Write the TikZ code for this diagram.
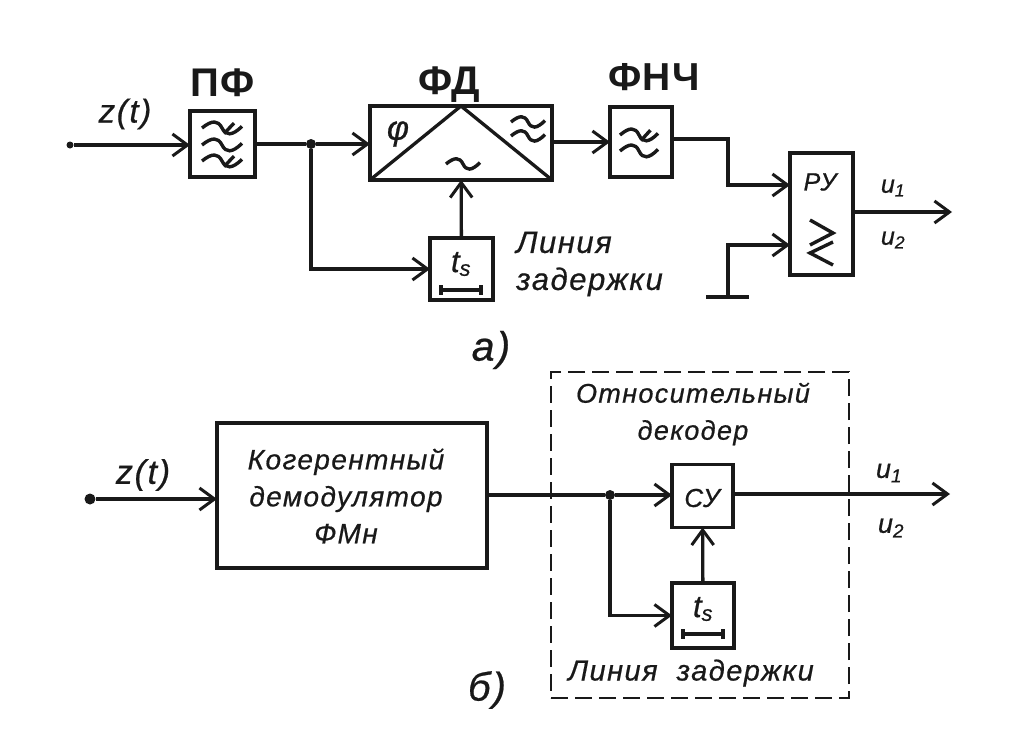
\documentclass[tikz,border=0pt]{standalone}
\usepackage{fontspec}
\setmainfont{Liberation Sans}
\newfontfamily\handfont[LetterSpace=5,FakeBold=0.6]{Liberation Sans}
\newfontfamily\titlefont[LetterSpace=3]{Liberation Sans}
\usetikzlibrary{arrows.meta}
\usetikzlibrary{positioning}
\begin{document}
\begin{tikzpicture}[
    x=1pt, y=-1pt,
    block/.style={rectangle, draw=black!90, line width=3.6pt, inner sep=0pt, outer sep=0pt},
    dashblock/.style={rectangle, draw=black!90, line width=2.8pt, dash pattern=on 17pt off 7pt, inner sep=0pt},
    conn/.style={draw=black!90, line width=3.3pt},
    arr/.style={conn, -{Straight Barb[length=15pt,width=22pt,line width=3pt]}},
    jdot/.style={circle, fill=black!90, inner sep=0pt, minimum size=10pt},
    hand/.style={font=\handfont\itshape\fontsize{#1}{37}\selectfont, text=black!90, inner sep=0pt, align=center},
    title/.style={font=\titlefont\bfseries\fontsize{#1}{37}\selectfont, text=black!90, inner sep=0pt},
    sym/.style={draw=black!90, line width=3.4pt},
]
\tikzset{
  pics/wave/.style args={#1:#2}{
    code={
      \draw[sym] (-#1,0) .. controls (-.5*#1,-#2) and (-.2*#1,-#2) .. (0,0)
        .. controls (.2*#1,#2) and (.5*#1,#2) .. (#1,-.2*#2);
    }
  },
  pics/wavecut/.style args={#1:#2}{
    code={
      \draw[sym] (-#1,0) .. controls (-.5*#1,-#2) and (-.2*#1,-#2) .. (0,0)
        .. controls (.2*#1,#2) and (.5*#1,#2) .. (#1,-.2*#2);
      \draw[sym] (.1*#1,.7*#2) -- (.6*#1,-.6*#2);
    }
  },
  pics/delaybar/.style={
    code={
      \draw[sym] (-20,0) -- (20,0);
      \draw[sym] (-20,-5) -- (-20,5);
      \draw[sym] (20,-5) -- (20,5);
    }
  }
}
\useasboundingbox (0,0) rectangle (1036,750);
% upper scheme
\node[block, minimum width=65pt, minimum height=66pt] (pf) at (222.5,144) {};
\node[block, minimum width=182pt, minimum height=74pt] (fd) at (461,143) {};
\node[block, minimum width=62pt, minimum height=70pt] (fnch) at (641,142) {};
\node[block, minimum width=63pt, minimum height=122pt] (ru) at (821.5,214) {};
\node[block, minimum width=63pt, minimum height=62pt] (tsa) at (461.5,269) {};
\node[jdot, minimum size=7pt] (ina) at (70,145) {};
\node[jdot] (ja) at (311,144) {};
\coordinate (outa) at (952,212);
\coordinate (bendb) at (728,185);
\coordinate (bendc) at (728,245);
\coordinate (gnd) at (728,297);
\coordinate (gndl) at (706,297);
\coordinate (gndr) at (749,297);
\draw[arr] (ina) -- (pf.west |- ina);
\draw[conn] (pf) -- (ja);
\draw[arr] (ja) -- (fd.west |- ja);
\draw[arr] (ja) |- (tsa);
\draw[arr] (tsa) -- (fd);
\draw[arr] (fd.east |- fnch) -- (fnch);
\draw[arr] (fnch.east |- 0,139) -| (bendb) -- (ru.west |- bendb);
\draw[arr] (gnd) -- (bendc) -- (ru.west |- bendc);
\draw[conn, line width=4.6pt] (gndl) -- (gndr);
\draw[arr] (ru.east |- outa) -- (outa);
\draw[sym, line width=3.3pt] (fd.south west) -- (fd.north) -- (fd.south east);
\node[hand=33] (za) at (125,114) {z(t)};
\node[title=40] (pflabel) at (223,83) {ПФ};
\node[title=40] (fdlabel) at (449,85) {ФД};
\node[title=39] (fnchlabel) at (654,77) {ФНЧ};
\node[hand=34] (phi) at (398,134) {φ};
\node[hand=25] (runame) at (820,182) {РУ};
\node[hand=31] (tsatext) at (461,264) {t\textsubscript{s}};
\node[hand=31, align=left, anchor=west] (dla) at (516,264) {Линия\\задержки};
\node[hand=25] (ua) at (893,188) {u\textsubscript{1}};
\node[hand=25] (ub) at (893,240) {u\textsubscript{2}};
\node[hand=41] (capa) at (491,350) {a)};
\pic at (222,128) {wavecut=20:8};
\pic at (222,145) {wave=20:8};
\pic at (222,161) {wavecut=20:8};
\pic at (528,122) {wave=17:7};
\pic at (528,136) {wave=17:7};
\pic at (463,164) {wave=17:7};
\pic at (639,135) {wavecut=19:8};
\pic at (639,151) {wave=19:8};
\pic at (461,290) {delaybar};
\draw[sym, line width=3.4pt] (810,220) -- (833,233) -- (810,245);
\draw[sym, line width=3.4pt] (833,242) -- (810,253) -- (833,265);
% lower scheme
\node[dashblock, minimum width=298pt, minimum height=326pt] (dec) at (700,535) {};
\node[block, minimum width=270pt, minimum height=145pt] (dem) at (352,495.5) {};
\node[block, minimum width=61pt, minimum height=63pt] (cy) at (702.5,496) {};
\node[block, minimum width=62pt, minimum height=65pt] (tsb) at (703,615.5) {};
\node[jdot, minimum size=11pt] (inb) at (90,499) {};
\node[jdot] (jb) at (610,495) {};
\coordinate (outb) at (950,494);
\draw[arr] (inb) -- (dem.west |- inb);
\draw[conn] (dem.east |- jb) -- (jb);
\draw[arr] (jb) -- (cy.west |- jb);
\draw[arr] (jb) |- (tsb);
\draw[arr] (tsb) -- (cy);
\draw[arr] (cy.east |- outb) -- (outb);
\node[hand=34] (zb) at (143,475) {z(t)};
\node[hand=28] (demtext) at (346,496) {Когерентный\\демодулятор\\ФМн};
\node[hand=27] (dectext) at (693,414) {Относительный\\декодер};
\node[hand=26] (cytext) at (702,498) {СУ};
\node[hand=31] (tsbtext) at (703,609) {t\textsubscript{s}};
\node[hand=29] (dlb) at (691,673) {Линия \ задержки};
\node[hand=27] (uc) at (889,473) {u\textsubscript{1}};
\node[hand=27] (ud) at (891,528) {u\textsubscript{2}};
\node[hand=40] (capb) at (487,690) {б)};
\pic at (703,634) {delaybar};
\end{tikzpicture}
\end{document}
